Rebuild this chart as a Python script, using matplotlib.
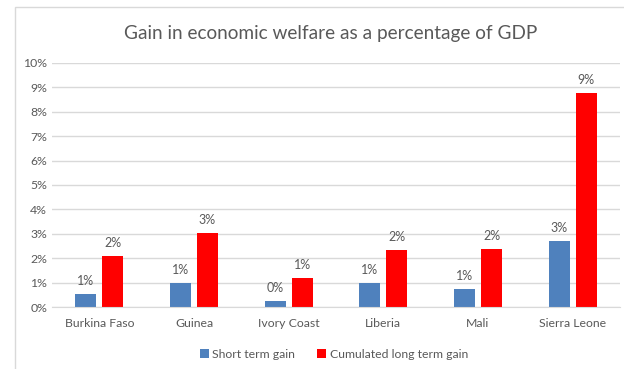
import numpy as np
import matplotlib
matplotlib.use('Agg')
import matplotlib.pyplot as plt
from matplotlib.patches import Rectangle
from matplotlib.ticker import FuncFormatter

countries = ["Burkina Faso", "Guinea", "Ivory Coast", "Liberia", "Mali", "Sierra Leone"]
short_term = [0.52, 0.98, 0.25, 0.97, 0.74, 2.70]
long_term = [2.08, 3.02, 1.18, 2.33, 2.37, 8.76]
series_names = ["Short term gain", "Cumulated long term gain"]

plt.rcParams['font.family'] = ['Lato', 'DejaVu Sans']

fig = plt.figure(figsize=(6.24, 3.69), dpi=100)
# chart frame, runs off the right and bottom edges like the screenshot
fig.patches.append(Rectangle((15 / 624, -0.05), 1.0, 1 - 7 / 369 + 0.05,
                             transform=fig.transFigure, fill=False,
                             edgecolor='#d9d9d9', linewidth=1.0))

ax = fig.add_axes([52 / 624, 1 - 307 / 369, 568 / 624, 244 / 369])
x = np.arange(len(countries))
w = 0.225
gap = 0.06
b1 = ax.bar(x - (w + gap) / 2, short_term, w, color='#4f81bd', label=series_names[0])
b2 = ax.bar(x + (w + gap) / 2, long_term, w, color='#ff0000', label=series_names[1])

# excel style labels, rounded half up
for bars, vals in [(b1, short_term), (b2, long_term)]:
    for r, v in zip(bars, vals):
        ax.annotate("{:.0f}%".format(np.floor(v + 0.5)), (r.get_x() + r.get_width() / 2, v),
                    xytext=(0, 5), textcoords='offset points',
                    ha='center', va='bottom', fontsize=9, color='#595959')

ax.set_ylim(0, 10)
ax.set_xlim(-0.5, len(countries) - 0.5)
ax.set_yticks(np.arange(0, 11, 1))
ax.yaxis.set_major_formatter(FuncFormatter(lambda v, p: "{:.0f}%".format(v)))
ax.set_xticks(x)
ax.set_xticklabels(countries)
ax.tick_params(axis='both', length=0, labelsize=8.8, colors='#595959')
ax.tick_params(axis='x', pad=8)
ax.grid(axis='y', color='#d9d9d9', linewidth=1.0)
ax.set_axisbelow(True)
for s in ['top', 'right', 'left']:
    ax.spines[s].set_visible(False)
ax.spines['bottom'].set_color('#d9d9d9')

fig.text(331 / 624, 1 - 33 / 369, "Gain in economic welfare as a percentage of GDP",
         ha='center', va='center', fontsize=13.7, color='#595959')

fig.legend(handles=[b1, b2], loc='center', bbox_to_anchor=(334 / 624, 1 - 354 / 369),
           ncol=2, frameon=False, fontsize=8.8, handlelength=0.7, handleheight=0.7,
           handletextpad=0.3, columnspacing=1.8, labelcolor='#595959')

fig.savefig('out.png', dpi=100)
